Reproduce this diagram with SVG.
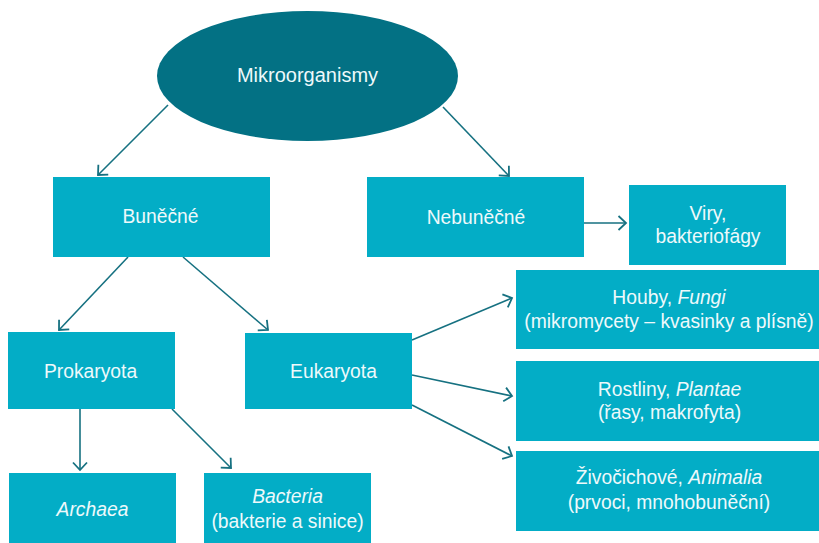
<svg xmlns="http://www.w3.org/2000/svg" width="819" height="543" viewBox="0 0 819 543">
<defs>
<style>
.box{fill:#03adc6}
.ell{fill:#037184}
.t{font-family:"Liberation Sans",Arial,sans-serif;font-size:19.3px;fill:#eef9fb;text-anchor:middle}
.i{font-style:italic}
.c{stroke:#167181;stroke-width:1.6;fill:none;marker-end:url(#ah)}
</style>
<marker id="ah" markerUnits="userSpaceOnUse" viewBox="-9 -9 11 18" markerWidth="11" markerHeight="18" refX="0" refY="0" orient="auto" overflow="visible">
<path d="M-7.5,-7 L0,0 L-7.5,7" fill="none" stroke="#167181" stroke-width="1.8"/>
</marker>
</defs>
<g id="connectors">
<line class="c" x1="168" y1="105" x2="98" y2="175"/>
<line class="c" x1="443" y1="107" x2="509" y2="176"/>
<line class="c" x1="584" y1="223" x2="626" y2="223"/>
<line class="c" x1="128" y1="257" x2="59" y2="330"/>
<line class="c" x1="183" y1="257" x2="268" y2="330"/>
<line class="c" x1="80" y1="409" x2="80" y2="470"/>
<line class="c" x1="172" y1="409" x2="231" y2="468"/>
<line class="c" x1="412" y1="340" x2="512" y2="298"/>
<line class="c" x1="412" y1="375" x2="512" y2="396"/>
<line class="c" x1="412" y1="405" x2="512" y2="456"/>
</g>
<g id="mikroorganismy">
<ellipse class="ell" cx="307.5" cy="76" rx="150.5" ry="65"/>
<text class="t" x="307.5" y="82" style="font-size:20px">Mikroorganismy</text>
</g>
<g id="bunecne">
<rect class="box" x="53" y="177" width="217" height="80"/>
<text class="t" x="160.5" y="223">Buněčné</text>
</g>
<g id="nebunecne">
<rect class="box" x="367" y="177" width="217" height="80"/>
<text class="t" x="476" y="224">Nebuněčné</text>
</g>
<g id="viry">
<rect class="box" x="629" y="185" width="157" height="80"/>
<text class="t" x="708" y="220">Viry,</text>
<text class="t" x="708" y="243">bakteriofágy</text>
</g>
<g id="prokaryota">
<rect class="box" x="8" y="332" width="167" height="77"/>
<text class="t" x="90.5" y="378">Prokaryota</text>
</g>
<g id="eukaryota">
<rect class="box" x="245" y="333" width="167" height="76"/>
<text class="t" x="333.5" y="378">Eukaryota</text>
</g>
<g id="houby">
<rect class="box" x="516" y="270" width="303" height="79"/>
<text class="t" x="669" y="304">Houby, <tspan class="i">Fungi</tspan></text>
<text class="t" x="669" y="328">(mikromycety – kvasinky a plísně)</text>
</g>
<g id="rostliny">
<rect class="box" x="516" y="361" width="303" height="80"/>
<text class="t" x="669.5" y="396">Rostliny, <tspan class="i">Plantae</tspan></text>
<text class="t" x="669.5" y="419">(řasy, makrofyta)</text>
</g>
<g id="zivocichove">
<rect class="box" x="516" y="451" width="303" height="80"/>
<text class="t" x="669" y="484">Živočichové, <tspan class="i">Animalia</tspan></text>
<text class="t" x="669" y="509">(prvoci, mnohobuněční)</text>
</g>
<g id="archaea">
<rect class="box" x="9" y="473" width="167" height="70"/>
<text class="t i" x="92.5" y="516">Archaea</text>
</g>
<g id="bacteria">
<rect class="box" x="204" y="473" width="167" height="70"/>
<text class="t" x="287.5" y="503"><tspan class="i">Bacteria</tspan></text>
<text class="t" x="287.5" y="528">(bakterie a sinice)</text>
</g>
</svg>
